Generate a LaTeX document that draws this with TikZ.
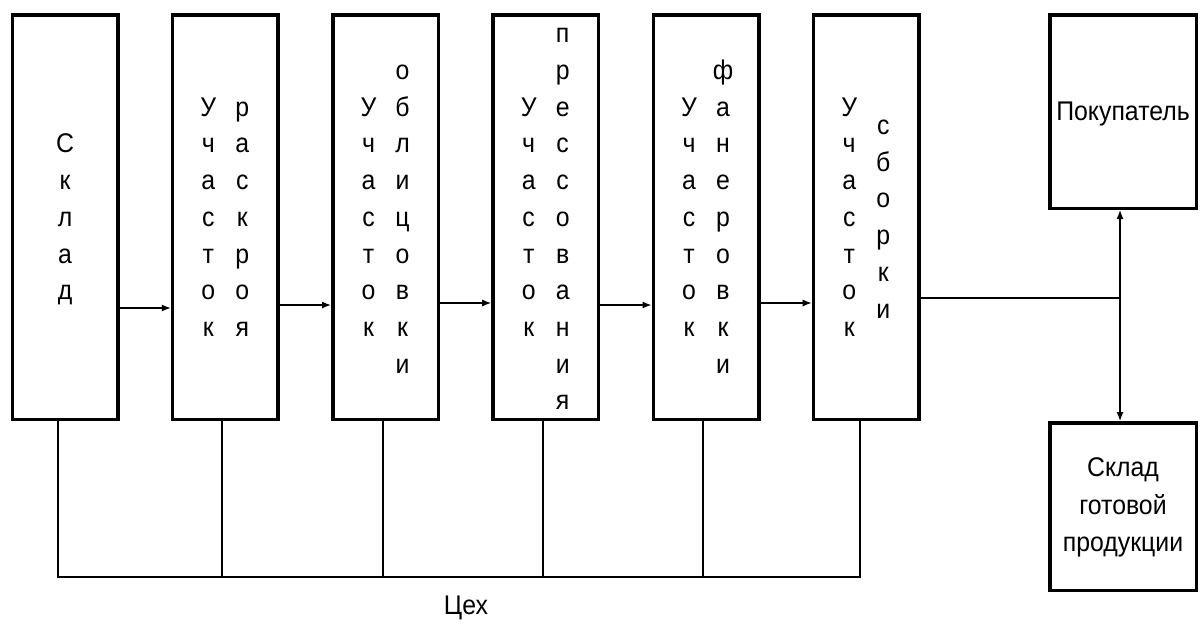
\documentclass[tikz,border=0pt]{standalone}
\usepackage{fontspec}
\setmainfont{Liberation Sans}[FakeStretch=0.92]
\usetikzlibrary{arrows.meta}
\ExplSyntaxOn
\NewDocumentCommand\vw{m}{\vbox{\tl_map_inline:nn{#1}{\hbox_to_wd:nn{30pt}{\hss\strut##1\hss}}}}
\ExplSyntaxOff
\begin{document}
\begin{tikzpicture}[x=1pt,y=-1pt,line join=miter,
  box/.style={draw,line width=3.5pt,minimum width=105.5pt,minimum height=404.5pt,inner sep=0pt},
  sidebox/.style={draw,line width=3.5pt,minimum width=146.5pt,inner sep=0pt},
  col/.style={inner sep=0pt,font=\fontsize{27}{36.7}\selectfont},
  txt/.style={inner sep=0pt,align=center,font=\fontsize{27}{37.5}\selectfont},
  ln/.style={line width=1.3pt},
  arr/.style={ln,-{Latex[length=9pt,width=7pt]}},
  darr/.style={ln,{Latex[length=9pt,width=7pt]}-{Latex[length=9pt,width=7pt]}}]
\useasboundingbox (0,0) rectangle (1201,624);
% boxes
\node[box] (b1) at (65,217) {};
\node[box] (b2) at (225.3,217) {};
\node[box] (b3) at (385.5,217) {};
\node[box] (b4) at (545.7,217) {};
\node[box] (b5) at (706,217) {};
\node[box] (b6) at (866.2,217) {};
\node[sidebox,minimum height=193.5pt] (pok) at (1123,111.5) {};
\node[sidebox,minimum height=167.5pt] (skg) at (1123,506.5) {};
% texts
\node[col] (t1) at ([yshift=-2pt]b1.center) {\vw{Склад}};
\node[col] (t2l) at ([xshift=-17pt,yshift=-2pt]b2.center) {\vw{Участок}};
\node[col] (t2r) at ([xshift=17pt,yshift=-2pt]b2.center) {\vw{раскроя}};
\node[col] (t3l) at ([xshift=-17pt,yshift=-2pt]b3.center) {\vw{Участок}};
\node[col] (t3r) at ([xshift=17pt,yshift=-2pt]b3.center) {\vw{облицовки}};
\node[col] (t4l) at ([xshift=-17pt,yshift=-2pt]b4.center) {\vw{Участок}};
\node[col] (t4r) at ([xshift=17pt,yshift=-2pt]b4.center) {\vw{прессования}};
\node[col] (t5l) at ([xshift=-17pt,yshift=-2pt]b5.center) {\vw{Участок}};
\node[col] (t5r) at ([xshift=17pt,yshift=-2pt]b5.center) {\vw{фанеровки}};
\node[col] (t6l) at ([xshift=-17pt,yshift=-2pt]b6.center) {\vw{Участок}};
\node[col] (t6r) at ([xshift=17pt,yshift=-2pt]b6.center) {\vw{сборки}};
\node[txt] (tp) at ([yshift=-3pt]pok.center) {Покупатель};
\node[txt] (ts) at (skg.center) {\strut Склад\\\strut готовой\\\strut продукции};
\node[txt] (ceh) at (466,608) {Цех};
% arrows between boxes
\draw[arr] ([yshift=-91pt]b1.east) -- ([yshift=-91pt]b2.west);
\draw[arr] ([yshift=-88pt]b2.east) -- ([yshift=-88pt]b3.west);
\draw[arr] ([yshift=-86pt]b3.east) -- ([yshift=-86pt]b4.west);
\draw[arr] ([yshift=-88pt]b4.east) -- ([yshift=-88pt]b5.west);
\draw[arr] ([yshift=-86pt]b5.east) -- ([yshift=-86pt]b6.west);
% output
\coordinate (j) at (1120,298);
\draw[ln] (b6.east |- j) -- (j);
\draw[darr] (pok.south -| j) -- (skg.north -| j);
% bus
\coordinate (c1) at (58,577);
\coordinate (c2) at (222,577);
\coordinate (c3) at (383,577);
\coordinate (c4) at (543,577);
\coordinate (c5) at (703,577);
\coordinate (c6) at (860,577);
\draw[ln] (b1.south -| c1) -- (c1) -- (c6) -- (b6.south -| c6);
\foreach \i in {2,...,5} \draw[ln] (b\i.south -| c\i) -- (c\i);
\end{tikzpicture}
\end{document}
